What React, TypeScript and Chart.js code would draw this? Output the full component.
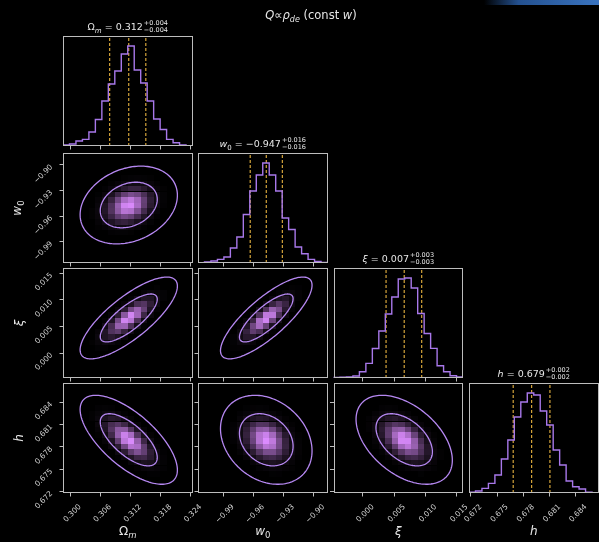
import React, { useEffect, useRef } from "react";
import { Chart, registerables } from "chart.js";

Chart.register(...registerables);

// ---------------- data ----------------
// parameter order: Omega_m, w0, xi, h
const RANGE_MIN = [0.2986, -1.015, -0.0047, 0.6718];
const RANGE_MAX = [0.3244, -0.886, 0.016, 0.6866];

const TICKS_OMEGA_M = [0.3, 0.306, 0.312, 0.318, 0.324];
const TICKS_W0 = [-0.99, -0.96, -0.93, -0.9];
const TICKS_XI = [0.0, 0.005, 0.01, 0.015];
const TICKS_H = [0.672, 0.675, 0.678, 0.681, 0.684];

const TICK_LABELS_OMEGA_M = ["0.300", "0.306", "0.312", "0.318", "0.324"];
const TICK_LABELS_W0 = ["\u22120.99", "\u22120.96", "\u22120.93", "\u22120.90"];
const TICK_LABELS_XI = ["0.000", "0.005", "0.010", "0.015"];
const TICK_LABELS_H = ["0.672", "0.675", "0.678", "0.681", "0.684"];

// 20-bin marginal histograms (relative heights, peak = 1)
const HIST_OMEGA_M = [0.01, 0.02, 0.05, 0.066, 0.14, 0.265, 0.45, 0.62, 0.75, 0.92, 1.0, 0.76, 0.63, 0.45, 0.27, 0.165, 0.066, 0.033, 0.01, 0.003];
const HIST_W0 = [0.004, 0.01, 0.02, 0.036, 0.06, 0.15, 0.26, 0.485, 0.72, 0.88, 1.0, 0.88, 0.72, 0.45, 0.335, 0.16, 0.093, 0.036, 0.015, 0.005];
const HIST_XI = [0.005, 0.007, 0.01, 0.02, 0.063, 0.146, 0.295, 0.47, 0.64, 0.81, 0.99, 1.0, 0.9, 0.645, 0.445, 0.296, 0.123, 0.063, 0.023, 0.01];
const HIST_H = [0.007, 0.02, 0.046, 0.096, 0.18, 0.34, 0.53, 0.76, 0.91, 1.0, 0.98, 0.82, 0.68, 0.43, 0.28, 0.12, 0.063, 0.04, 0.007, 0.002];

// 16 / 50 / 84 percent quantiles
const Q_OMEGA_M = [0.3079, 0.3117, 0.3151];
const Q_W0 = [-0.963, -0.947, -0.931];
const Q_XI = [0.0037, 0.0066, 0.0094];
const Q_H = [0.67685, 0.67896, 0.68105];

// 2D posterior shape: centres, widths, correlations
const CENTRES = [0.3117, -0.947, 0.0066, 0.67896];
const SIGMAS = [0.0034, 0.016, 0.0027, 0.0021];
const CORR_W0_OMEGA_M = 0.25;
const CORR_XI_OMEGA_M = 0.78;
const CORR_XI_W0 = 0.8;
const CORR_H_OMEGA_M = -0.68;
const CORR_H_W0 = -0.25;
const CORR_H_XI = -0.46;
const CONTOUR_RADII = [1.67, 2.85];

// ---------------- style / layout ----------------
const W = 599;
const H = 542;
const COL_LEFT = [63, 198, 333.5, 469];
const ROW_TOP = [36, 153, 268, 383];
const PANEL_W = 129.5;
const PANEL_H = 110;
const NBINS = 20;

const FONT = "DejaVu Sans";
const FRAME_COLOR = "#bdbdbd";
const TICK_COLOR = "#d2d2d2";
const TEXT_COLOR = "#e6e6e6";
const HIST_COLOR = "#a878ea";
const CONTOUR_COLOR = "#b688f2";
const QUANT_COLOR = "#e9b440";
const DENSITY_PEAK = [220, 140, 255];
const DENSITY_GAMMA = 1.9;

const TICKS = [TICKS_OMEGA_M, TICKS_W0, TICKS_XI, TICKS_H];
const TICK_LABELS = [TICK_LABELS_OMEGA_M, TICK_LABELS_W0, TICK_LABELS_XI, TICK_LABELS_H];
const HISTS = [HIST_OMEGA_M, HIST_W0, HIST_XI, HIST_H];
const QUANTS = [Q_OMEGA_M, Q_W0, Q_XI, Q_H];

function corrOf(row: number, col: number): number {
  const key = `${row}${col}`;
  const table: Record<string, number> = {
    "10": CORR_W0_OMEGA_M,
    "20": CORR_XI_OMEGA_M,
    "21": CORR_XI_W0,
    "30": CORR_H_OMEGA_M,
    "31": CORR_H_W0,
    "32": CORR_H_XI,
  };
  return table[key] ?? 0;
}

function scaleOpts(param: number, axis: "x" | "y", showLabels: boolean, boxSize: number): any {
  return {
    type: "linear",
    min: RANGE_MIN[param],
    max: RANGE_MAX[param],
    afterBuildTicks: (s: any) => {
      s.ticks = TICKS[param].map((v) => ({ value: v }));
    },
    afterFit: (s: any) => {
      if (axis === "x") s.height = boxSize;
      else s.width = boxSize;
      s.paddingLeft = 0;
      s.paddingRight = 0;
      s.paddingTop = 0;
      s.paddingBottom = 0;
    },
    ticks: {
      display: showLabels,
      autoSkip: false,
      minRotation: 45,
      maxRotation: 45,
      padding: axis === "x" ? 6 : 8,
      labelOffset: axis === "x" ? 10 : 1,
      color: TICK_COLOR,
      font: { family: FONT, size: 7.5 },
      callback: (_v: any, i: number) => TICK_LABELS[param][i],
    },
    grid: {
      display: true,
      drawOnChartArea: false,
      drawTicks: true,
      tickLength: 3.5,
      color: FRAME_COLOR,
      lineWidth: 1,
    },
    border: { display: false },
  };
}

const framePlugin = {
  id: "frame",
  afterDraw(chart: any) {
    const { ctx, chartArea } = chart;
    ctx.save();
    ctx.strokeStyle = FRAME_COLOR;
    ctx.lineWidth = 1;
    const l = Math.round(chartArea.left) + 0.5;
    const t = Math.round(chartArea.top) + 0.5;
    const r = Math.round(chartArea.right) - 0.5;
    const b = Math.round(chartArea.bottom) - 0.5;
    ctx.strokeRect(l, t, r - l, b - t);
    ctx.restore();
  },
};

function densityPlugin(row: number, col: number) {
  const mx = CENTRES[col];
  const my = CENTRES[row];
  const sx = SIGMAS[col];
  const sy = SIGMAS[row];
  const rho = corrOf(row, col);
  return {
    id: "density",
    beforeDatasetsDraw(chart: any) {
      const { ctx, chartArea } = chart;
      const xs = chart.scales.x;
      const ys = chart.scales.y;
      const dx = (RANGE_MAX[col] - RANGE_MIN[col]) / NBINS;
      const dy = (RANGE_MAX[row] - RANGE_MIN[row]) / NBINS;
      ctx.save();
      ctx.beginPath();
      ctx.rect(chartArea.left, chartArea.top, chartArea.right - chartArea.left, chartArea.bottom - chartArea.top);
      ctx.clip();
      for (let a = 0; a < NBINS; a++) {
        for (let b = 0; b < NBINS; b++) {
          const x0 = RANGE_MIN[col] + a * dx;
          const y0 = RANGE_MIN[row] + b * dy;
          const u = (x0 + dx / 2 - mx) / sx;
          const v = (y0 + dy / 2 - my) / sy;
          const d2 = (u * u - 2 * rho * u * v + v * v) / (1 - rho * rho);
          const z = Math.pow(Math.exp(-d2 / 2), DENSITY_GAMMA);
          if (z < 0.01) continue;
          const px0 = Math.round(xs.getPixelForValue(x0));
          const px1 = Math.round(xs.getPixelForValue(x0 + dx));
          const py0 = Math.round(ys.getPixelForValue(y0));
          const py1 = Math.round(ys.getPixelForValue(y0 + dy));
          ctx.fillStyle = `rgb(${Math.round(DENSITY_PEAK[0] * z)},${Math.round(DENSITY_PEAK[1] * z)},${Math.round(DENSITY_PEAK[2] * z)})`;
          ctx.fillRect(px0, py1, px1 - px0, py0 - py1);
        }
      }
      ctx.restore();
    },
    afterDatasetsDraw(chart: any) {
      const { ctx, chartArea } = chart;
      const xs = chart.scales.x;
      const ys = chart.scales.y;
      ctx.save();
      ctx.beginPath();
      ctx.rect(chartArea.left, chartArea.top, chartArea.right - chartArea.left, chartArea.bottom - chartArea.top);
      ctx.clip();
      ctx.strokeStyle = CONTOUR_COLOR;
      ctx.lineWidth = 1.3;
      const k = Math.sqrt(1 - rho * rho);
      for (const r of CONTOUR_RADII) {
        ctx.beginPath();
        const n = 160;
        for (let i = 0; i <= n; i++) {
          const t = (i / n) * Math.PI * 2;
          const vx = mx + r * sx * Math.cos(t);
          const vy = my + r * sy * (rho * Math.cos(t) + k * Math.sin(t));
          const px = xs.getPixelForValue(vx);
          const py = ys.getPixelForValue(vy);
          if (i === 0) ctx.moveTo(px, py);
          else ctx.lineTo(px, py);
        }
        ctx.closePath();
        ctx.stroke();
      }
      ctx.restore();
    },
  };
}

// layout: the left-column y axis and the bottom-row x axis own the margin space
function layoutFor(row: number, col: number, xLabels: boolean, yLabels: boolean) {
  const left = COL_LEFT[col];
  const top = ROW_TOP[row];
  const bottomSpace = H - (top + PANEL_H);
  return {
    padding: {
      left: yLabels ? 0 : left,
      top,
      right: W - (left + PANEL_W),
      bottom: xLabels ? 0 : bottomSpace,
    },
    xBox: xLabels ? bottomSpace : 0,
    yBox: yLabels ? left : 0,
  };
}

function diagConfig(p: number): any {
  const hist = HISTS[p];
  const edge = (i: number) => RANGE_MIN[p] + ((RANGE_MAX[p] - RANGE_MIN[p]) * i) / NBINS;
  const pts: { x: number; y: number }[] = [{ x: edge(0), y: 0 }];
  hist.forEach((v, i) => pts.push({ x: edge(i), y: v }));
  pts.push({ x: edge(NBINS), y: hist[NBINS - 1] });
  pts.push({ x: edge(NBINS), y: 0 });
  const ymax = Math.max(...hist) * 1.1;
  const lay = layoutFor(p, p, p === 3, false);
  const datasets: any[] = [
    {
      data: pts,
      stepped: "before",
      borderColor: HIST_COLOR,
      borderWidth: 1.4,
      pointRadius: 0,
      fill: false,
    },
    ...QUANTS[p].map((q) => ({
      data: [
        { x: q, y: 0 },
        { x: q, y: ymax },
      ],
      borderColor: QUANT_COLOR,
      borderWidth: 1.1,
      borderDash: [3, 2],
      pointRadius: 0,
      fill: false,
    })),
  ];
  return {
    type: "line",
    data: { datasets },
    options: {
      animation: false,
      responsive: false,
      maintainAspectRatio: false,
      events: [],
      layout: { padding: lay.padding, autoPadding: false },
      plugins: { legend: { display: false }, tooltip: { enabled: false }, title: { display: false } },
      scales: {
        x: scaleOpts(p, "x", p === 3, lay.xBox),
        y: { type: "linear", display: false, min: 0, max: ymax },
      },
    },
    plugins: [framePlugin],
  };
}

function offConfig(row: number, col: number): any {
  const lay = layoutFor(row, col, row === 3, col === 0);
  return {
    type: "scatter",
    data: { datasets: [{ data: [], pointRadius: 0 }] },
    options: {
      animation: false,
      responsive: false,
      maintainAspectRatio: false,
      events: [],
      layout: { padding: lay.padding, autoPadding: false },
      plugins: { legend: { display: false }, tooltip: { enabled: false }, title: { display: false } },
      scales: {
        x: scaleOpts(col, "x", row === 3, lay.xBox),
        y: scaleOpts(row, "y", col === 0, lay.yBox),
      },
    },
    plugins: [densityPlugin(row, col), framePlugin],
  };
}

// ---------------- text helpers ----------------
function SupSub({ sup, sub }: { sup: string; sub: string }) {
  return (
    <span
      style={{
        display: "inline-flex",
        flexDirection: "column",
        fontSize: "6.5px",
        lineHeight: "6.5px",
        verticalAlign: "middle",
        marginLeft: "1px",
        position: "relative",
        top: "-1px",
      }}
    >
      <span>{sup}</span>
      <span>{sub}</span>
    </span>
  );
}

const PANEL_TITLES: React.ReactNode[] = [
  <>
    Ω<sub style={{ fontSize: "7px", fontStyle: "italic" }}>m</sub> = 0.312
    <SupSub sup="+0.004" sub={"\u22120.004"} />
  </>,
  <>
    <i>w</i>
    <sub style={{ fontSize: "7px" }}>0</sub> = {"\u22120.947"}
    <SupSub sup="+0.016" sub={"\u22120.016"} />
  </>,
  <>
    <i>ξ</i> = 0.007
    <SupSub sup="+0.003" sub={"\u22120.003"} />
  </>,
  <>
    <i>h</i> = 0.679
    <SupSub sup="+0.002" sub={"\u22120.002"} />
  </>,
];

const AXIS_LABELS: React.ReactNode[] = [
  <>
    Ω<sub style={{ fontSize: "8.5px", fontStyle: "italic" }}>m</sub>
  </>,
  <>
    <i>w</i>
    <sub style={{ fontSize: "8.5px" }}>0</sub>
  </>,
  <i>ξ</i>,
  <i>h</i>,
];

export default function App() {
  const refs = useRef<(HTMLCanvasElement | null)[]>([]);
  const panels: { row: number; col: number }[] = [];
  for (let r = 0; r < 4; r++) for (let c = 0; c <= r; c++) panels.push({ row: r, col: c });

  useEffect(() => {
    const charts = panels.map((p, k) => {
      const cv = refs.current[k]!;
      const cfg = p.row === p.col ? diagConfig(p.row) : offConfig(p.row, p.col);
      return new Chart(cv, cfg);
    });
    return () => charts.forEach((c) => c.destroy());
  }, []);

  return (
    <div
      style={{
        position: "fixed",
        left: 0,
        top: 0,
        width: W,
        height: H,
        background: "#000",
        overflow: "hidden",
        fontFamily: FONT,
        color: TEXT_COLOR,
      }}
    >
      <div
        style={{
          position: "absolute",
          left: 484,
          top: 0,
          width: 115,
          height: 5,
          background: "linear-gradient(90deg, rgba(20,50,100,0) 0%, #23508f 30%, #3a74c0 100%)",
        }}
      />
      {panels.map((p, k) => (
        <canvas
          key={k}
          ref={(el) => {
            refs.current[k] = el;
          }}
          width={W}
          height={H}
          style={{ position: "absolute", left: 0, top: 0, width: W, height: H }}
        />
      ))}
      <div
        style={{
          position: "absolute",
          left: 311,
          top: 8,
          transform: "translateX(-50%)",
          whiteSpace: "nowrap",
          fontSize: "11.5px",
          lineHeight: "14px",
        }}
      >
        <i>Q</i>∝<i>ρ</i>
        <sub style={{ fontSize: "8px", fontStyle: "italic" }}>de</sub> (const <i>w</i>)
      </div>
      {PANEL_TITLES.map((t, i) => (
        <div
          key={"pt" + i}
          style={{
            position: "absolute",
            left: COL_LEFT[i] + PANEL_W / 2,
            top: ROW_TOP[i] - 16,
            transform: "translateX(-50%)",
            whiteSpace: "nowrap",
            fontSize: "9.5px",
            lineHeight: "14px",
          }}
        >
          {t}
        </div>
      ))}
      {AXIS_LABELS.map((t, i) => (
        <div
          key={"xl" + i}
          style={{
            position: "absolute",
            left: COL_LEFT[i] + PANEL_W / 2,
            top: 523,
            transform: "translateX(-50%)",
            whiteSpace: "nowrap",
            fontSize: "12px",
            lineHeight: "16px",
          }}
        >
          {t}
        </div>
      ))}
      {AXIS_LABELS.slice(1).map((t, i) => (
        <div
          key={"yl" + i}
          style={{
            position: "absolute",
            left: 19,
            top: ROW_TOP[i + 1] + PANEL_H / 2,
            transform: "translate(-50%, -50%) rotate(-90deg)",
            whiteSpace: "nowrap",
            fontSize: "12px",
            lineHeight: "16px",
          }}
        >
          {t}
        </div>
      ))}
    </div>
  );
}
